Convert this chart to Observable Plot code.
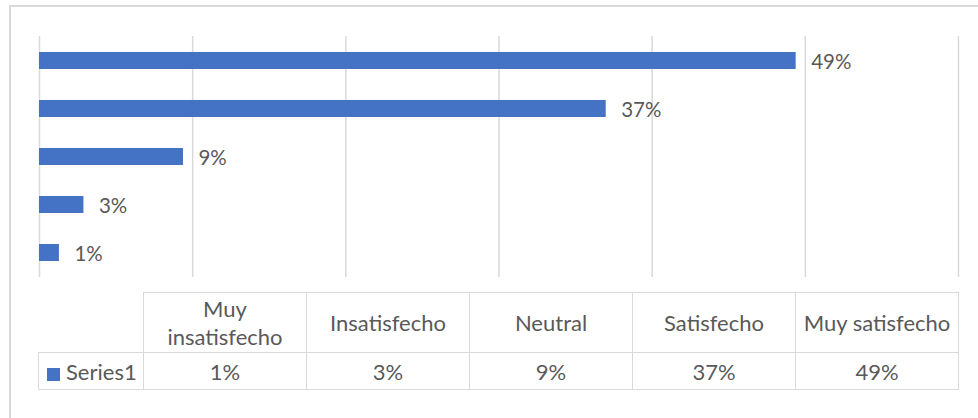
<!DOCTYPE html>
<html>
<head>
<meta charset="utf-8">
<script src="https://cdn.jsdelivr.net/npm/d3@7"></script>
<script src="https://cdn.jsdelivr.net/npm/@observablehq/plot@0.6"></script>
<style>
  html, body { margin: 0; padding: 0; background: #ffffff; }
  #wrap { position: relative; width: 978px; height: 418px; overflow: hidden; font-family: Lato, "Open Sans", sans-serif; }
  #frame { position: absolute; left: 9px; top: 5px; width: 1200px; height: 800px; border-left: 2px solid #d9d9d9; border-top: 2px solid #d9d9d9; box-sizing: border-box; }
  #chart { position: absolute; left: 0; top: 0; }
  #tbl { position: absolute; left: 38px; top: 292px; border-collapse: collapse; table-layout: fixed; color: #595959; font-size: 22px; }
  #tbl td { border: 1.5px solid #d9d9d9; text-align: center; padding: 0; }
  #tbl tr.head td { height: 59px; line-height: 28px; }
  #tbl tr.data td { height: 36px; }
  #tbl td.blank { border-top: none; border-left: none; }
  #tbl td.key { text-align: left; padding-left: 8px; white-space: nowrap; }
  .swatch { display: inline-block; width: 13px; height: 13px; margin-right: 6px; vertical-align: -1px; }
</style>
</head>
<body>
<div id="wrap">
  <div id="frame"></div>
  <div id="chart"></div>
  <table id="tbl"></table>
</div>
<script>
// ---- data ----
const categories = ["Muy insatisfecho", "Insatisfecho", "Neutral", "Satisfecho", "Muy satisfecho"];
const headerLines = [["Muy", "insatisfecho"], ["Insatisfecho"], ["Neutral"], ["Satisfecho"], ["Muy satisfecho"]];
const values = [0.013, 0.029, 0.094, 0.370, 0.494];
const seriesName = "Series1";
const xTicks = [0, 0.1, 0.2, 0.3, 0.4, 0.5, 0.6];

const barColor = "#4472C4";
const textColor = "#595959";
const fmt = d3.format(".0%");

const data = categories.map((c, i) => ({category: c, value: values[i]}));

const chart = Plot.plot({
  width: 978,
  height: 418,
  marginLeft: 39,
  marginRight: 20,
  marginTop: 36,
  marginBottom: 141,
  x: {domain: [0, 0.6], axis: null},
  y: {domain: categories.slice().reverse(), axis: null, paddingInner: 0.655, paddingOuter: 0.3275},
  style: {fontFamily: "Lato, 'Open Sans', sans-serif", fontSize: "20px", color: textColor, background: "transparent", overflow: "visible"},
  marks: [
    Plot.ruleX(xTicks, {stroke: "#d9d9d9", strokeWidth: 1.5}),
    Plot.barX(data, {x: "value", y: "category", fill: barColor}),
    Plot.text(data, {x: "value", y: "category", text: d => fmt(d.value), textAnchor: "start", dx: 15, dy: 1, fill: textColor, fontSize: 20.5})
  ]
});
document.getElementById("chart").appendChild(chart);

// ---- data table below the chart ----
const tbl = d3.select("#tbl");
const cg = tbl.append("colgroup");
cg.append("col").style("width", "105px");
categories.forEach(() => cg.append("col").style("width", "163px"));
const head = tbl.append("tr").attr("class", "head");
head.append("td").attr("class", "blank");
headerLines.forEach(lines => head.append("td").html(lines.join("<br>")));
const row = tbl.append("tr").attr("class", "data");
const key = row.append("td").attr("class", "key");
key.append("span").attr("class", "swatch").style("background", barColor);
key.append("span").text(seriesName);
values.forEach(v => row.append("td").text(fmt(v)));
</script>
</body>
</html>
